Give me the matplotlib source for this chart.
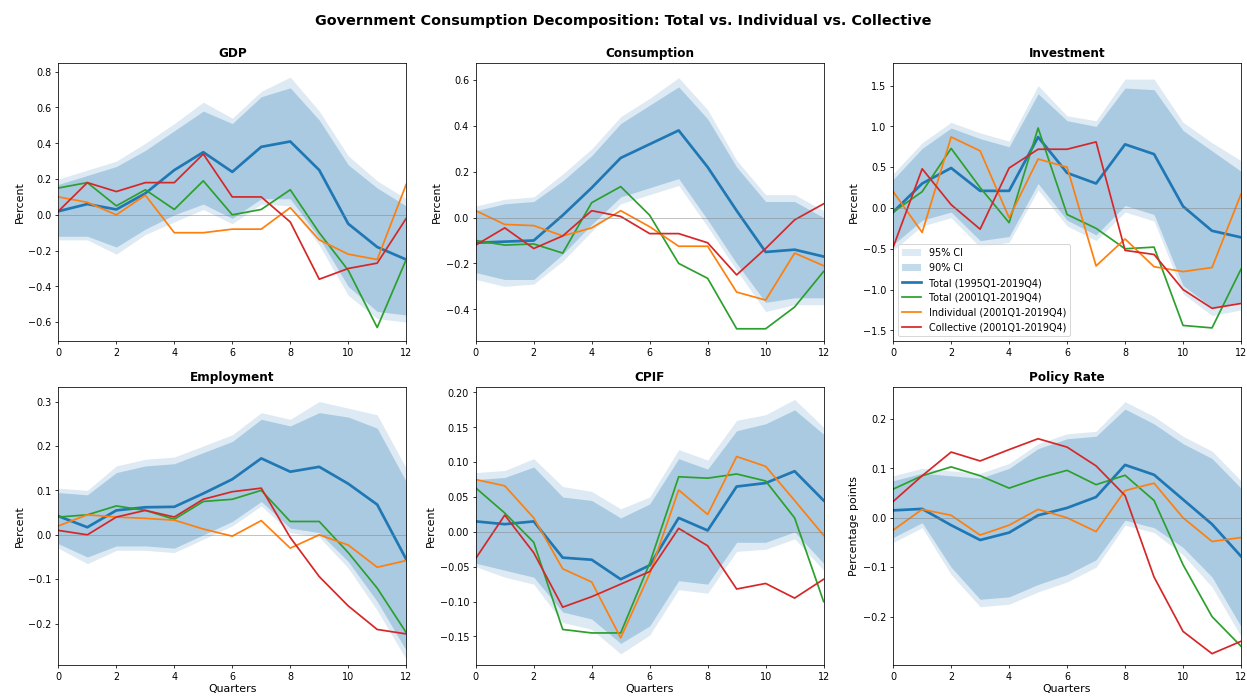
import numpy as np
import matplotlib.pyplot as plt

quarters = np.arange(13)

# GDP
gdp_total95 = [0.02, 0.06, 0.03, 0.12, 0.25, 0.35, 0.24, 0.38, 0.41, 0.25, -0.05, -0.18, -0.25]
gdp_total01 = [0.15, 0.18, 0.05, 0.14, 0.03, 0.19, 0.00, 0.03, 0.14, -0.10, -0.31, -0.63, -0.25]
gdp_indiv = [0.10, 0.07, 0.00, 0.11, -0.10, -0.10, -0.08, -0.08, 0.04, -0.14, -0.22, -0.25, 0.17]
gdp_coll = [0.02, 0.18, 0.13, 0.18, 0.18, 0.34, 0.10, 0.10, -0.04, -0.36, -0.30, -0.27, -0.02]
gdp_hi90 = [0.17, 0.22, 0.27, 0.36, 0.47, 0.58, 0.51, 0.66, 0.71, 0.53, 0.28, 0.15, 0.05]
gdp_lo90 = [-0.12, -0.12, -0.18, -0.08, 0.00, 0.06, -0.02, 0.09, 0.09, -0.13, -0.40, -0.54, -0.56]
gdp_hi95 = [0.20, 0.25, 0.30, 0.40, 0.51, 0.63, 0.54, 0.69, 0.77, 0.58, 0.33, 0.19, 0.09]
gdp_lo95 = [-0.14, -0.14, -0.22, -0.11, -0.04, 0.03, -0.05, 0.06, 0.05, -0.17, -0.45, -0.58, -0.60]

# Consumption
cons_total95 = [-0.11, -0.105, -0.10, 0.01, 0.13, 0.26, 0.32, 0.38, 0.22, 0.03, -0.15, -0.14, -0.17]
cons_total01 = [-0.10, -0.12, -0.115, -0.155, 0.065, 0.135, 0.01, -0.20, -0.265, -0.485, -0.485, -0.39, -0.235]
cons_indiv = [0.03, -0.03, -0.035, -0.08, -0.045, 0.03, -0.04, -0.125, -0.125, -0.325, -0.36, -0.155, -0.21]
cons_coll = [-0.12, -0.045, -0.135, -0.08, 0.03, 0.005, -0.07, -0.07, -0.11, -0.25, -0.135, -0.01, 0.06]
cons_hi90 = [0.03, 0.06, 0.07, 0.16, 0.27, 0.41, 0.49, 0.57, 0.43, 0.22, 0.07, 0.07, 0.00]
cons_lo90 = [-0.24, -0.27, -0.27, -0.16, -0.03, 0.09, 0.13, 0.17, -0.01, -0.20, -0.37, -0.35, -0.35]
cons_hi95 = [0.05, 0.08, 0.09, 0.19, 0.30, 0.44, 0.52, 0.61, 0.47, 0.25, 0.10, 0.10, 0.03]
cons_lo95 = [-0.27, -0.30, -0.29, -0.19, -0.06, 0.06, 0.10, 0.14, -0.04, -0.23, -0.41, -0.38, -0.38]

# Investment
inv_total95 = [-0.05, 0.30, 0.49, 0.21, 0.21, 0.87, 0.43, 0.30, 0.78, 0.66, 0.02, -0.28, -0.36]
inv_total01 = [-0.05, 0.20, 0.73, 0.25, -0.18, 0.98, -0.08, -0.25, -0.50, -0.48, -1.44, -1.47, -0.75]
inv_indiv = [0.20, -0.30, 0.87, 0.70, -0.12, 0.60, 0.50, -0.71, -0.38, -0.72, -0.78, -0.73, 0.17]
inv_coll = [-0.48, 0.48, 0.04, -0.26, 0.49, 0.72, 0.72, 0.81, -0.52, -0.57, -1.00, -1.23, -1.17]
inv_hi90 = [0.35, 0.73, 0.98, 0.85, 0.75, 1.40, 1.07, 1.00, 1.47, 1.45, 0.95, 0.70, 0.45]
inv_lo90 = [-0.45, -0.15, -0.05, -0.40, -0.35, 0.30, -0.15, -0.33, 0.03, -0.08, -0.95, -1.22, -1.15]
inv_hi95 = [0.42, 0.80, 1.05, 0.92, 0.82, 1.50, 1.13, 1.07, 1.58, 1.58, 1.05, 0.80, 0.58]
inv_lo95 = [-0.52, -0.22, -0.12, -0.48, -0.42, 0.22, -0.22, -0.40, -0.05, -0.16, -1.05, -1.32, -1.25]

# Employment
emp_total95 = [0.042, 0.017, 0.055, 0.062, 0.063, 0.093, 0.125, 0.172, 0.142, 0.153, 0.115, 0.068, -0.055]
emp_total01 = [0.040, 0.045, 0.065, 0.055, 0.035, 0.075, 0.080, 0.100, 0.030, 0.030, -0.040, -0.120, -0.220]
emp_indiv = [0.020, 0.045, 0.040, 0.037, 0.033, 0.013, -0.003, 0.032, -0.030, 0.000, -0.023, -0.073, -0.058]
emp_coll = [0.010, 0.000, 0.040, 0.055, 0.040, 0.080, 0.097, 0.105, -0.006, -0.094, -0.160, -0.213, -0.223]
emp_hi90 = [0.095, 0.090, 0.140, 0.155, 0.160, 0.185, 0.210, 0.260, 0.245, 0.275, 0.265, 0.240, 0.120]
emp_lo90 = [-0.020, -0.050, -0.025, -0.025, -0.030, 0.000, 0.030, 0.075, 0.015, 0.005, -0.060, -0.150, -0.260]
emp_hi95 = [0.105, 0.100, 0.155, 0.170, 0.175, 0.200, 0.225, 0.275, 0.260, 0.300, 0.285, 0.270, 0.150]
emp_lo95 = [-0.030, -0.065, -0.035, -0.035, -0.040, -0.010, 0.020, 0.065, 0.005, -0.005, -0.075, -0.170, -0.280]

# CPIF
cpif_total95 = [0.015, 0.011, 0.015, -0.037, -0.040, -0.068, -0.048, 0.020, 0.002, 0.065, 0.070, 0.087, 0.045]
cpif_total01 = [0.063, 0.027, -0.015, -0.140, -0.145, -0.145, -0.045, 0.079, 0.077, 0.083, 0.073, 0.020, -0.100]
cpif_indiv = [0.075, 0.066, 0.020, -0.053, -0.072, -0.152, -0.060, 0.060, 0.025, 0.108, 0.094, 0.045, -0.005]
cpif_coll = [-0.038, 0.024, -0.030, -0.108, -0.093, -0.075, -0.057, 0.005, -0.020, -0.082, -0.074, -0.095, -0.068]
cpif_hi90 = [0.075, 0.078, 0.093, 0.050, 0.045, 0.020, 0.040, 0.105, 0.090, 0.145, 0.155, 0.175, 0.140]
cpif_lo90 = [-0.045, -0.055, -0.065, -0.115, -0.125, -0.160, -0.135, -0.070, -0.075, -0.015, -0.015, 0.000, -0.045]
cpif_hi95 = [0.085, 0.088, 0.105, 0.065, 0.058, 0.033, 0.050, 0.118, 0.103, 0.160, 0.168, 0.190, 0.150]
cpif_lo95 = [-0.050, -0.065, -0.075, -0.130, -0.140, -0.175, -0.148, -0.083, -0.088, -0.028, -0.025, -0.010, -0.055]

# Policy rate
rate_total95 = [0.015, 0.018, -0.015, -0.045, -0.030, 0.005, 0.020, 0.042, 0.107, 0.087, 0.037, -0.013, -0.078]
rate_total01 = [0.058, 0.085, 0.103, 0.085, 0.060, 0.080, 0.096, 0.067, 0.086, 0.035, -0.095, -0.200, -0.260]
rate_indiv = [-0.025, 0.017, 0.005, -0.035, -0.015, 0.017, 0.000, -0.028, 0.055, 0.070, 0.000, -0.048, -0.040]
rate_coll = [0.033, 0.085, 0.133, 0.115, 0.138, 0.160, 0.143, 0.105, 0.045, -0.120, -0.230, -0.275, -0.250]
rate_hi90 = [0.075, 0.090, 0.085, 0.080, 0.100, 0.140, 0.160, 0.165, 0.220, 0.190, 0.150, 0.120, 0.060]
rate_lo90 = [-0.040, -0.010, -0.100, -0.165, -0.160, -0.135, -0.115, -0.085, -0.005, -0.020, -0.060, -0.120, -0.220]
rate_hi95 = [0.085, 0.100, 0.095, 0.090, 0.110, 0.150, 0.170, 0.175, 0.235, 0.205, 0.165, 0.135, 0.075]
rate_lo95 = [-0.050, -0.020, -0.115, -0.180, -0.175, -0.150, -0.130, -0.100, -0.015, -0.030, -0.075, -0.140, -0.240]

panels = [
    ('GDP', 'Percent', (-0.705, 0.85),
     gdp_total95, gdp_total01, gdp_indiv, gdp_coll, gdp_lo90, gdp_hi90, gdp_lo95, gdp_hi95),
    ('Consumption', 'Percent', (-0.538, 0.675),
     cons_total95, cons_total01, cons_indiv, cons_coll, cons_lo90, cons_hi90, cons_lo95, cons_hi95),
    ('Investment', 'Percent', (-1.63, 1.78),
     inv_total95, inv_total01, inv_indiv, inv_coll, inv_lo90, inv_hi90, inv_lo95, inv_hi95),
    ('Employment', 'Percent', (-0.293, 0.333),
     emp_total95, emp_total01, emp_indiv, emp_coll, emp_lo90, emp_hi90, emp_lo95, emp_hi95),
    ('CPIF', 'Percent', (-0.191, 0.208),
     cpif_total95, cpif_total01, cpif_indiv, cpif_coll, cpif_lo90, cpif_hi90, cpif_lo95, cpif_hi95),
    ('Policy Rate', 'Percentage points', (-0.298, 0.265),
     rate_total95, rate_total01, rate_indiv, rate_coll, rate_lo90, rate_hi90, rate_lo95, rate_hi95),
]

fig, axes = plt.subplots(2, 3, figsize=(18, 10.05), dpi=1247 / 18)
fig.subplots_adjust(left=0.0468, right=0.9952, bottom=0.0445, top=0.9095,
                    wspace=0.2, hspace=0.165)

for i, (ax, p) in enumerate(zip(axes.flat, panels)):
    title, ylab, ylim, tot, tot01, ind, col, lo90, hi90, lo95, hi95 = p
    ax.fill_between(quarters, lo95, hi95, color='tab:blue', alpha=0.15, lw=0, label='95% CI')
    ax.fill_between(quarters, lo90, hi90, color='tab:blue', alpha=0.27, lw=0, label='90% CI')
    ax.plot(quarters, tot, color='tab:blue', lw=2.8, label='Total (1995Q1-2019Q4)')
    ax.plot(quarters, tot01, color='tab:green', lw=1.8, label='Total (2001Q1-2019Q4)')
    ax.plot(quarters, ind, color='tab:orange', lw=1.8, label='Individual (2001Q1-2019Q4)')
    ax.plot(quarters, col, color='tab:red', lw=1.8, label='Collective (2001Q1-2019Q4)')
    ax.axhline(0, color='gray', lw=0.8, alpha=0.6)
    ax.set_title(title, fontsize=12.5, fontweight='bold')
    ax.set_ylabel(ylab, fontsize=11.5)
    ax.set_xlim(0, 12)
    ax.set_ylim(*ylim)
    if i >= 3:
        ax.set_xlabel('Quarters', fontsize=11.5, labelpad=2)
    if title == 'Investment':
        ax.legend(loc='lower left', fontsize=10)

fig.suptitle('Government Consumption Decomposition: Total vs. Individual vs. Collective',
             fontsize=15, fontweight='bold', y=0.98)

plt.savefig('out.png', dpi=1247 / 18)
